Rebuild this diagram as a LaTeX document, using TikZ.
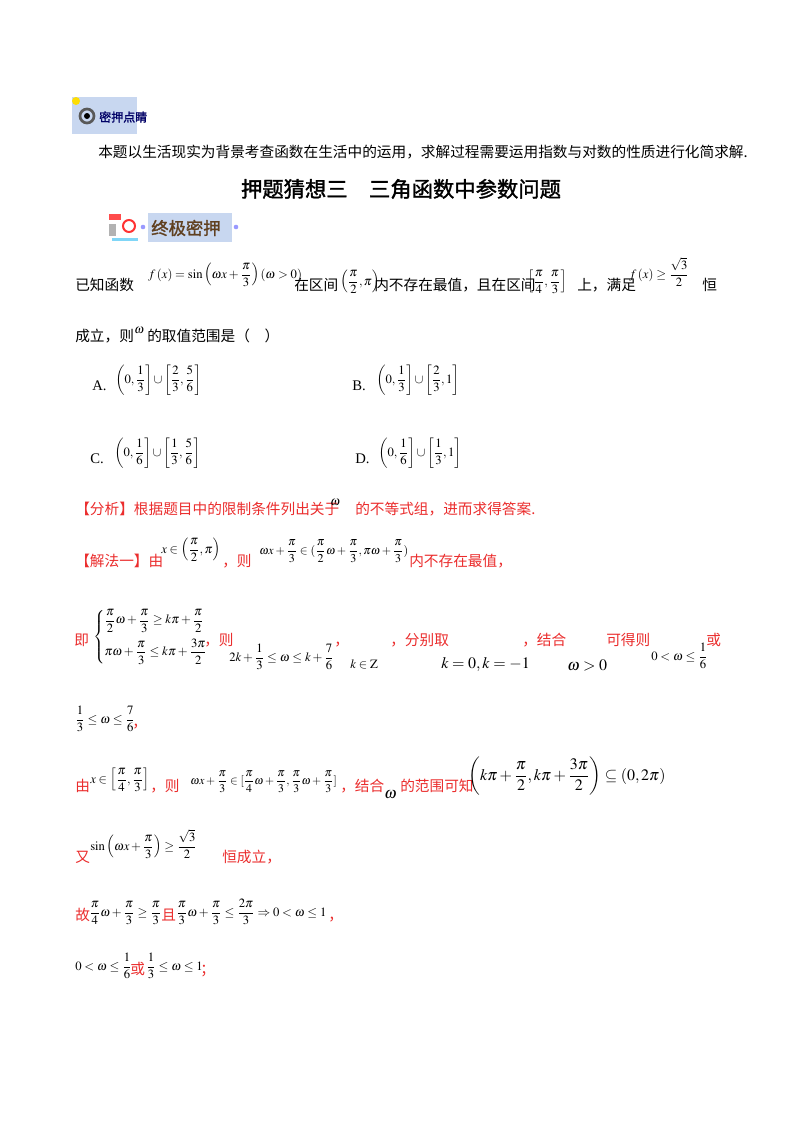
\documentclass[tikz,border=0pt]{standalone}
\usepackage{amsmath,amssymb}
\usepackage{mathptmx}
\usepackage{fontspec}
\setmainfont{Liberation Serif}
\newfontfamily\cjk{Noto Sans CJK SC}
\newfontfamily\cjkb{Noto Sans CJK SC}[FakeBold=1.5]
\definecolor{rd}{RGB}{235,45,45}
\definecolor{lb}{RGB}{200,215,240}
\tikzset{t/.style={anchor=base west,inner sep=0pt,font=\fontsize{11}{13}\selectfont},
 m/.style={anchor=base west,inner sep=0pt,font=\fontsize{9.5}{11}\selectfont},
 r/.style={t,text=rd}}
\begin{document}
\begin{tikzpicture}[x=0.75pt,y=-0.75pt]
\useasboundingbox (0,0) rectangle (800,1132);
\fill[white] (0,0) rectangle (800,1132);
% header icon
\fill[lb] (72,97) rectangle (137,134);
\draw[line width=2pt,gray!70!black] (87,116) circle (7);
\fill[black] (87,116) circle (3);
\fill[yellow!80!orange] (76,101) circle (4);
\node[anchor=west,inner sep=0pt,font=\cjkb\fontsize{9}{10}\selectfont,text=blue!40!black] (h1) at (99,117) {密押点睛};
\node[t] (l1) at (98,157) {\cjk 本题以生活现实为背景考查函数在生活中的运用，求解过程需要运用指数与对数的性质进行化简求解.};
\node[anchor=base,inner sep=0pt,font=\cjkb\fontsize{16}{18}\selectfont] (title) at (401,197) {押题猜想三\quad 三角函数中参数问题};
% second icon
\fill[lb] (148,213) rectangle (232,242);
\fill[red!70] (109,214) rectangle (121,220);
\fill[gray!60] (109,224) rectangle (116,236);
\fill[cyan!50] (112,238) rectangle (138,241);
\draw[red!80,line width=1.5pt] (129,226) circle (6);
\fill[blue!40] (143,227) circle (2.3);
\fill[blue!40] (236,227) circle (2.3);
\node[anchor=west,inner sep=0pt,font=\cjkb\fontsize{13}{15}\selectfont,text=brown!50!black] (h2) at (151,228) {终极密押};
% problem
\node[t] (p1) at (75,290) {\cjk 已知函数};
\node[m] (p2) at (148,278) {$f\left(x\right)=\sin\left(\omega x+\dfrac{\pi}{3}\right)(\omega>0)$};
\node[t] (p3) at (294,290) {\cjk 在区间};
\node[m] (p4) at (340,285) {$\left(\dfrac{\pi}{2},\pi\right)$};
\node[t] (p5) at (374,290) {\cjk 内不存在最值，且在区间};
\node[m] (p6) at (527,285) {$\left[\dfrac{\pi}{4},\dfrac{\pi}{3}\right]$};
\node[t] (p7) at (577,290) {\cjk 上，满足};
\node[m] (p8) at (629,278) {$f\left(x\right)\geq\dfrac{\sqrt{3}}{2}$};
\node[t] (p9) at (702,290) {\cjk 恒};
\node[t] (q1) at (75,341) {\cjk 成立，则\hspace{10pt}的取值范围是（\quad ）};
\node[m] (q2) at (134,333) {$\omega$};
\node[t] (oa) at (92,390) {A.};
\node[m] (oa2) at (115,383) {$\left(0,\dfrac{1}{3}\right]\cup\left[\dfrac{2}{3},\dfrac{5}{6}\right]$};
\node[t] (ob) at (352,390) {B.};
\node[m] (ob2) at (376,383) {$\left(0,\dfrac{1}{3}\right]\cup\left[\dfrac{2}{3},1\right]$};
\node[t] (oc) at (90,463) {C.};
\node[m] (oc2) at (114,456) {$\left(0,\dfrac{1}{6}\right]\cup\left[\dfrac{1}{3},\dfrac{5}{6}\right]$};
\node[t] (od) at (355,463) {D.};
\node[m] (od2) at (378,456) {$\left(0,\dfrac{1}{6}\right]\cup\left[\dfrac{1}{3},1\right]$};
% analysis
\node[r] (a1) at (75,514) {\cjk 【分析】根据题目中的限制条件列出关于\hspace{12pt}的不等式组，进而求得答案.};
\node[m] (a2) at (330,505) {$\omega$};
\node[r] (s1) at (75,566) {\cjk 【解法一】由};
\node[m] (s2) at (161,553) {$x\in\left(\dfrac{\pi}{2},\pi\right)$};
\node[r] (s3) at (222,566) {\cjk ，则};
\node[m,font=\fontsize{9}{11}\selectfont] (s4) at (259,554) {$\omega x+\dfrac{\pi}{3}\in(\dfrac{\pi}{2}\omega+\dfrac{\pi}{3},\pi\omega+\dfrac{\pi}{3})$};
\node[r] (s5) at (409,566) {\cjk 内不存在最值，};
\node[r] (b1) at (74,645) {\cjk 即};
\node[m] (b2) at (93,640) {$\begin{cases}\dfrac{\pi}{2}\omega+\dfrac{\pi}{3}\geq k\pi+\dfrac{\pi}{2}\\[7pt] \pi\omega+\dfrac{\pi}{3}\leq k\pi+\dfrac{3\pi}{2}\end{cases}$};
\node[r] (b3) at (204,645) {\cjk ，则};
\node[m] (b4) at (229,661) {$2k+\dfrac{1}{3}\leq\omega\leq k+\dfrac{7}{6}$};
\node[r] (b5) at (334,645) {\cjk ，};
\node[m] (b6) at (350,668) {$k\in\mathrm{Z}$};
\node[r] (b7) at (390,645) {\cjk ，分别取};
\node[m,font=\fontsize{12}{14}\selectfont] (b8) at (441,668) {$k=0,k=-1$};
\node[r] (b9) at (522,645) {\cjk ，结合};
\node[m,font=\fontsize{12}{14}\selectfont] (b10) at (567,670) {$\omega>0$};
\node[r] (b11) at (606,645) {\cjk 可得则};
\node[m] (b12) at (651,660) {$0<\omega\leq\dfrac{1}{6}$};
\node[r] (b13) at (706,645) {\cjk 或};
\node[m] (c1) at (75,723) {$\dfrac{1}{3}\leq\omega\leq\dfrac{7}{6}$};
\node[r] (c2) at (132,727) {\cjk ，};
\node[r] (d1) at (75,791) {\cjk 由};
\node[m] (d2) at (90,783) {$x\in\left[\dfrac{\pi}{4},\dfrac{\pi}{3}\right]$};
\node[r] (d3) at (150,791) {\cjk ，则};
\node[m,font=\fontsize{8.8}{10}\selectfont] (d4) at (190,784) {$\omega x+\dfrac{\pi}{3}\in[\dfrac{\pi}{4}\omega+\dfrac{\pi}{3},\dfrac{\pi}{3}\omega+\dfrac{\pi}{3}]$};
\node[r] (d5) at (340,791) {\cjk ，结合};
\node[m,font=\fontsize{12}{14}\selectfont] (d6) at (384,798) {$\omega$};
\node[r] (d7) at (400,791) {\cjk 的范围可知};
\node[m,font=\fontsize{12}{14}\selectfont] (d8) at (468,780) {$\left(k\pi+\dfrac{\pi}{2},k\pi+\dfrac{3\pi}{2}\right)\subseteq\left(0,2\pi\right)$};
\node[r] (e1) at (75,862) {\cjk 又};
\node[m] (e2) at (90,850) {$\sin\left(\omega x+\dfrac{\pi}{3}\right)\geq\dfrac{\sqrt{3}}{2}$};
\node[r] (e3) at (222,862) {\cjk 恒成立，};
\node[r] (f1) at (75,920) {\cjk 故};
\node[m] (f2) at (89,916) {$\dfrac{\pi}{4}\omega+\dfrac{\pi}{3}\geq\dfrac{\pi}{3}$};
\node[r] (f3) at (161,920) {\cjk 且};
\node[m] (f4) at (176,916) {$\dfrac{\pi}{3}\omega+\dfrac{\pi}{3}\leq\dfrac{2\pi}{3}\Rightarrow0<\omega\leq1$};
\node[r] (f5) at (328,920) {\cjk ，};
\node[m] (g1) at (75,970) {$0<\omega\leq\dfrac{1}{6}$};
\node[r] (g2) at (130,974) {\cjk 或};
\node[m] (g3) at (146,970) {$\dfrac{1}{3}\leq\omega\leq1$};
\node[r] (g4) at (200,974) {\cjk ；};
\end{tikzpicture}
\end{document}
